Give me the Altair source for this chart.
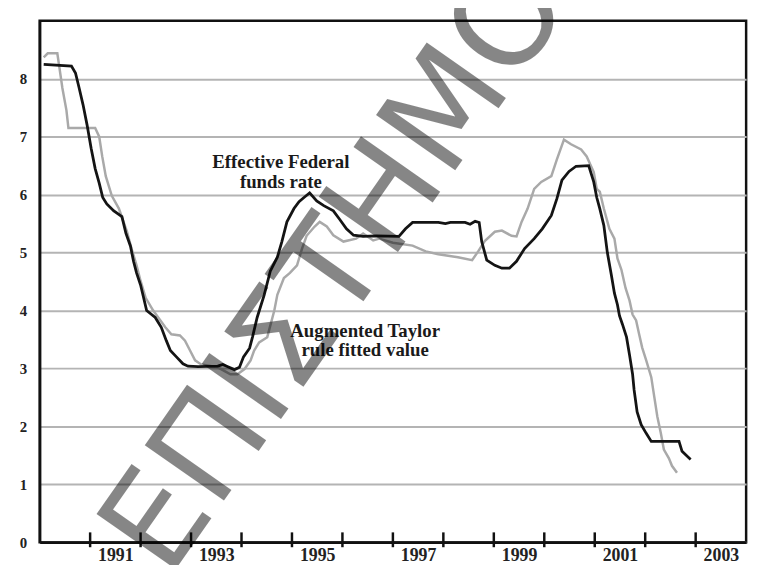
import altair as alt
import pandas as pd

# Effective Federal funds rate (black)
fed_year = [1990.08, 1990.63, 1990.71, 1990.78, 1990.86, 1990.94, 1991.02, 1991.10, 1991.18, 1991.25,
            1991.33, 1991.47, 1991.63, 1991.71, 1991.80, 1991.86, 1991.92, 1992.00, 1992.06, 1992.12,
            1992.29, 1992.41, 1992.51, 1992.59, 1992.71, 1992.84, 1992.94, 1993.14, 1993.53, 1993.63,
            1993.73, 1993.86, 1993.96, 1994.04, 1994.16, 1994.22, 1994.31, 1994.45, 1994.57, 1994.71,
            1994.80, 1994.90, 1995.04, 1995.14, 1995.25, 1995.35, 1995.49, 1995.63, 1995.82, 1995.94,
            1996.08, 1996.22, 1996.41, 1996.67, 1997.12, 1997.25, 1997.39, 1997.90, 1998.04, 1998.14,
            1998.43, 1998.53, 1998.63, 1998.71, 1998.76, 1998.86, 1999.02, 1999.16, 1999.31, 1999.45,
            1999.61, 1999.80, 1999.96, 2000.14, 2000.25, 2000.35, 2000.49, 2000.63, 2000.88, 2000.98,
            2001.04, 2001.10, 2001.18, 2001.25, 2001.33, 2001.39, 2001.45, 2001.49, 2001.55, 2001.63,
            2001.69, 2001.75, 2001.78, 2001.84, 2001.92, 2002.02, 2002.12, 2002.67, 2002.73, 2002.90]
fed_rate = [8.25, 8.22, 8.10, 7.85, 7.55, 7.20, 6.80, 6.45, 6.20, 5.95,
            5.84, 5.72, 5.62, 5.33, 5.11, 4.85, 4.65, 4.44, 4.22, 4.00,
            3.88, 3.71, 3.48, 3.31, 3.20, 3.08, 3.04, 3.03, 3.04, 3.07,
            3.03, 2.98, 3.02, 3.20, 3.35, 3.55, 3.88, 4.27, 4.68, 4.92,
            5.19, 5.53, 5.76, 5.88, 5.96, 6.03, 5.89, 5.81, 5.72, 5.58,
            5.41, 5.30, 5.28, 5.29, 5.28, 5.41, 5.52, 5.52, 5.50, 5.52,
            5.52, 5.49, 5.54, 5.52, 5.19, 4.87, 4.78, 4.73, 4.73, 4.85,
            5.07, 5.24, 5.41, 5.64, 5.93, 6.25, 6.40, 6.49, 6.50, 6.22,
            5.95, 5.76, 5.47, 5.00, 4.61, 4.30, 4.10, 3.91, 3.76, 3.54,
            3.23, 2.90, 2.63, 2.25, 2.03, 1.88, 1.74, 1.74, 1.57, 1.43]

# Augmented Taylor rule fitted value (grey)
taylor_year = [1990.08, 1990.16, 1990.35, 1990.39, 1990.45, 1990.53, 1990.57, 1991.10, 1991.18, 1991.24,
               1991.31, 1991.43, 1991.57, 1991.73, 1991.82, 1991.92, 1992.00, 1992.10, 1992.25, 1992.35,
               1992.49, 1992.61, 1992.78, 1992.88, 1992.98, 1993.08, 1993.20, 1993.53, 1993.78, 1993.92,
               1994.06, 1994.18, 1994.25, 1994.35, 1994.51, 1994.65, 1994.71, 1994.84, 1994.96, 1995.10,
               1995.20, 1995.29, 1995.45, 1995.55, 1995.69, 1995.82, 1996.02, 1996.27, 1996.41, 1996.61,
               1996.73, 1997.00, 1997.39, 1997.65, 1997.90, 1998.29, 1998.57, 1998.69, 1998.82, 1999.02,
               1999.16, 1999.35, 1999.45, 1999.55, 1999.67, 1999.80, 1999.94, 2000.14, 2000.25, 2000.39,
               2000.53, 2000.73, 2000.84, 2000.98, 2001.04, 2001.10, 2001.18, 2001.29, 2001.39, 2001.45,
               2001.53, 2001.61, 2001.69, 2001.75, 2001.82, 2001.88, 2001.94, 2002.02, 2002.12, 2002.18,
               2002.24, 2002.31, 2002.37, 2002.47, 2002.53, 2002.63]
taylor_rate = [8.37, 8.44, 8.44, 8.20, 7.84, 7.46, 7.15, 7.15, 7.00, 6.66,
               6.32, 5.98, 5.76, 5.36, 5.07, 4.78, 4.51, 4.22, 4.00, 3.88,
               3.71, 3.59, 3.57, 3.48, 3.31, 3.14, 3.07, 3.02, 2.90, 2.90,
               2.99, 3.14, 3.31, 3.45, 3.54, 4.00, 4.27, 4.56, 4.65, 4.78,
               5.07, 5.29, 5.45, 5.53, 5.45, 5.30, 5.19, 5.24, 5.33, 5.21,
               5.24, 5.17, 5.12, 5.02, 4.97, 4.92, 4.87, 5.02, 5.20, 5.36,
               5.38, 5.29, 5.28, 5.53, 5.76, 6.10, 6.22, 6.32, 6.61, 6.95,
               6.87, 6.78, 6.66, 6.39, 6.10, 6.05, 5.76, 5.41, 5.24, 4.90,
               4.70, 4.39, 4.17, 3.93, 3.83, 3.59, 3.36, 3.14, 2.85, 2.51,
               2.17, 1.88, 1.60, 1.45, 1.32, 1.20]

y_ticks = [0, 1, 2, 3, 4, 5, 6, 7, 8]
x_tick_years = list(range(1991, 2004))

label_text = ["Effective Federal", "funds rate", "Augmented Taylor", "rule fitted value"]
label_year = [1994.78, 1994.78, 1996.45, 1996.45]
label_rate = [6.56, 6.22, 3.65, 3.31]

watermark_text = ["ΕΠΙΣΤΗΜΟ"]
watermark_year = [1992.55]
watermark_rate = [-0.65]

W, H = 714, 527
SERIF = "Liberation Serif"

xs = alt.Scale(domain=[1990, 2004], nice=False, zero=False)
ys = alt.Scale(domain=[0, 9], nice=False, zero=True)

x_axis = alt.Axis(
    values=x_tick_years,
    labelExpr="datum.value % 2 == 1 ? format(datum.value, 'd') : ''",
    labelOffset=25.5, ticks=False, grid=False,
    domainColor="#111111", domainWidth=2.5,
    labelPadding=4, labelFontSize=18, labelFont=SERIF, labelFontWeight="bold",
    labelColor="#222222", labelOverlap=False, labelFlush=False, labelBound=False,
    title=None,
)
y_axis = alt.Axis(
    values=y_ticks, format="d", ticks=False, grid=True,
    gridColor="#b4b4b4", gridWidth=2,
    domainColor="#111111", domainWidth=2.5,
    labelPadding=13, labelFontSize=15, labelFont=SERIF, labelFontWeight="bold",
    labelColor="#222222", title=None,
)
X = alt.X("year:Q", scale=xs, axis=x_axis)
Y = alt.Y("rate:Q", scale=ys, axis=y_axis)

fed_df = pd.DataFrame({"year": fed_year, "rate": fed_rate})
taylor_df = pd.DataFrame({"year": taylor_year, "rate": taylor_rate})
label_df = pd.DataFrame({"year": label_year, "rate": label_rate, "text": label_text})
tick_df = pd.DataFrame({"year": x_tick_years})
wm_df = pd.DataFrame({"year": watermark_year, "rate": watermark_rate, "text": watermark_text})

taylor_line = alt.Chart(taylor_df).mark_line(color="#a9a9a9", strokeWidth=2.5).encode(x=X, y=Y)
fed_line = alt.Chart(fed_df).mark_line(color="#141414", strokeWidth=2.8).encode(x=X, y=Y)

ticks = alt.Chart(tick_df).mark_rule(color="#111111", strokeWidth=2.5).encode(
    x=X, y=alt.value(H - 10), y2=alt.value(H + 5)
)

labels = alt.Chart(label_df).mark_text(
    font=SERIF, fontSize=19, fontWeight="bold", color="#1a1a1a",
    align="center", baseline="middle",
).encode(x=X, y=Y, text="text:N")

watermark = alt.Chart(wm_df).mark_text(
    font="DejaVu Sans", fontSize=134, color="#000000", opacity=0.47,
    align="left", baseline="alphabetic", angle=305,
).encode(x=X, y=Y, text="text:N")

chart = alt.layer(taylor_line, fed_line, ticks, labels, watermark).properties(
    width=W, height=H,
    padding={"left": 32, "top": 10, "right": 12, "bottom": 20},
    autosize=alt.AutoSizeParams(type="none"),
    background="white",
).configure_view(stroke="#111111", strokeWidth=2.5)

chart.save("out.html", embed_options={"renderer": "svg", "actions": False})
